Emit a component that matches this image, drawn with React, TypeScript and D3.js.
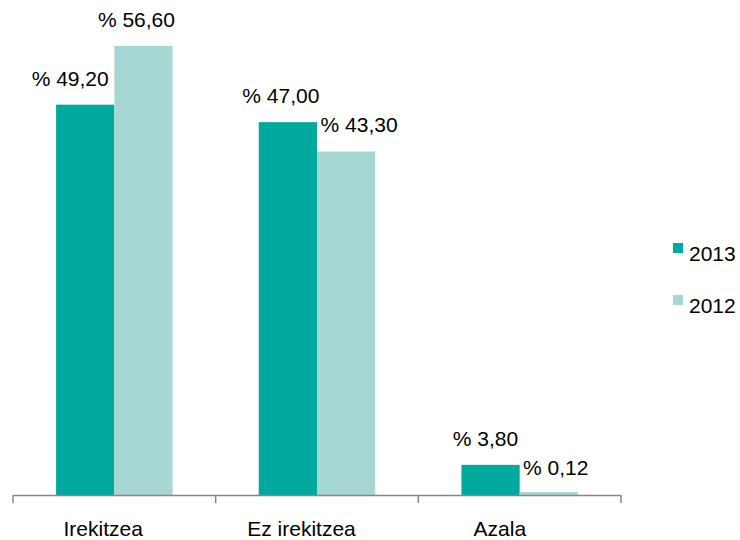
import React from "react";
import * as d3 from "d3";

const categories = ["Irekitzea", "Ez irekitzea", "Azala"];
const seriesNames = ["2013", "2012"];
const values2013 = [49.2, 47.0, 3.8];
const values2012 = [56.6, 43.3, 0.12];
const labels2013 = ["% 49,20", "% 47,00", "% 3,80"];
const labels2012 = ["% 56,60", "% 43,30", "% 0,12"];
const colors = ["#00A99D", "#A7D7D4"];
// manual horizontal label nudges (as in the original)
const labelDx2013 = [-15, -7, -5];
const labelDx2012 = [-7, 13, 7];

export default function App() {
  const width = 740;
  const height = 540;
  const x0 = d3.scaleBand<string>().domain(categories).range([13, 621]).padding(0);
  // category labels in the original sit slightly left of their band centres
  const xLabel = d3.scaleBand<string>().domain(categories).range([4, 599]).padding(0);
  const x1 = d3
    .scaleBand<string>()
    .domain(seriesNames)
    .range([0, x0.bandwidth()])
    .paddingInner(0)
    .paddingOuter(0.74);
  const y = d3.scaleLinear().domain([0, 60]).range([495, 19]);
  const font = "Arial, 'Liberation Sans', sans-serif";
  const series = [
    { name: seriesNames[0], values: values2013, labels: labels2013, dx: labelDx2013, color: colors[0] },
    { name: seriesNames[1], values: values2012, labels: labels2012, dx: labelDx2012, color: colors[1] },
  ];
  const ticks = [...categories.map((c) => x0(c) as number), 621];
  return (
    <svg
      width={width}
      height={height}
      style={{ position: "absolute", left: 0, top: 0, background: "#fff" }}
      fontFamily={font}
    >
      {series.map((s) =>
        categories.map((c, i) => {
          const bx = (x0(c) as number) + (x1(s.name) as number);
          const top = Math.min(y(s.values[i]), y(0) - 3);
          return (
            <g key={s.name + c}>
              <rect x={bx} y={top} width={x1.bandwidth()} height={y(0) - top} fill={s.color} />
              <text
                x={bx + x1.bandwidth() / 2 + s.dx[i]}
                y={y(s.values[i]) - 19}
                textAnchor="middle"
                fontSize={21}
                fill="#000"
              >
                {s.labels[i]}
              </text>
            </g>
          );
        })
      )}
      <line x1={13} x2={621} y1={495.5} y2={495.5} stroke="#888" strokeWidth={1.5} />
      {ticks.map((t, i) => (
        <line key={i} x1={t} x2={t} y1={495} y2={503} stroke="#888" strokeWidth={1.5} />
      ))}
      {categories.map((c) => (
        <text
          key={c}
          x={(xLabel(c) as number) + xLabel.bandwidth() / 2}
          y={536}
          textAnchor="middle"
          fontSize={21}
          fill="#000"
        >
          {c}
        </text>
      ))}
      {seriesNames.map((n, i) => (
        <g key={n} transform={`translate(673, ${243 + i * 52})`}>
          <rect x={0} y={0} width={10} height={10} fill={colors[i]} />
          <text x={16} y={18} fontSize={21} fill="#000">
            {n}
          </text>
        </g>
      ))}
    </svg>
  );
}
